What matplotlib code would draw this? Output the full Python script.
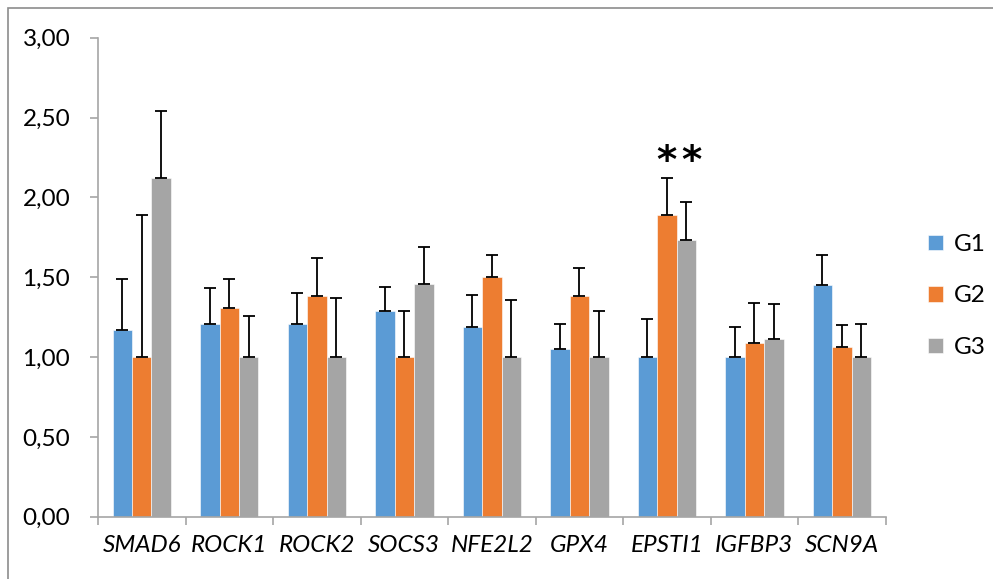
import matplotlib
matplotlib.use("Agg")
import matplotlib.pyplot as plt
import numpy as np
from matplotlib.patches import Rectangle

plt.rcParams['font.family'] = ['Lato', 'DejaVu Sans']

genes = ["SMAD6", "ROCK1", "ROCK2", "SOCS3", "NFE2L2", "GPX4", "EPSTI1", "IGFBP3", "SCN9A"]
groups = ["G1", "G2", "G3"]
g1 = [1.17, 1.21, 1.21, 1.29, 1.19, 1.05, 1.00, 1.00, 1.45]
g2 = [1.00, 1.31, 1.38, 1.00, 1.50, 1.38, 1.89, 1.09, 1.06]
g3 = [2.12, 1.00, 1.00, 1.46, 1.00, 1.00, 1.73, 1.11, 1.00]
g1_err = [0.32, 0.22, 0.19, 0.15, 0.20, 0.16, 0.24, 0.19, 0.19]
g2_err = [0.89, 0.18, 0.24, 0.29, 0.14, 0.18, 0.23, 0.25, 0.14]
g3_err = [0.42, 0.26, 0.37, 0.23, 0.36, 0.29, 0.24, 0.22, 0.21]
yticks = [0.0, 0.5, 1.0, 1.5, 2.0, 2.5, 3.0]
ytick_labels = ["0,00", "0,50", "1,00", "1,50", "2,00", "2,50", "3,00"]
sig_gene = "EPSTI1"
sig_marks = ["*", "*"]

colors = ["#5B9BD5", "#ED7D31", "#A5A5A5"]
W, H = 993, 579
FS = 17.5
fig = plt.figure(figsize=(W / 100, H / 100), dpi=100)
fig.patch.set_facecolor("white")
# outer border (top and left visible)
fig.add_artist(Rectangle((8 / W, -0.1), 1.2, (H - 8) / H + 0.1, transform=fig.transFigure,
                         fill=False, edgecolor="#8C8C8C", linewidth=1.2))

ax = fig.add_axes([98 / W, (H - 516.7) / H, (885.7 - 98) / W, (516.7 - 37.7) / H])
x = np.arange(len(genes))
bw = 1 / 4.5
vals = [g1, g2, g3]
errs = [g1_err, g2_err, g3_err]
for k in range(3):
    pos = x + (k - 1) * bw
    ax.bar(pos, vals[k], width=bw, color=colors[k], label=groups[k], zorder=2,
           edgecolor="white", linewidth=0.4)
    ax.errorbar(pos, vals[k], yerr=[np.zeros(len(genes)), errs[k]], fmt="none",
                ecolor="black", elinewidth=1.3, capsize=4.3, capthick=1.3, zorder=3)

ax.set_xlim(-0.5, len(genes) - 0.5)
ax.set_ylim(0, 3.0)
ax.set_yticks(yticks)
ax.set_yticklabels(ytick_labels, fontsize=FS)
ax.set_xticks(x)
ax.set_xticklabels(genes, fontsize=FS, style="italic")
ax.set_xticks(np.arange(-0.5, len(genes), 1.0), minor=True)
ax.tick_params(axis="x", which="major", length=0, pad=13)
ax.tick_params(axis="x", which="minor", length=6, color="#A6A6A6", width=1.2, direction="out")
ax.tick_params(axis="y", length=6, color="#A6A6A6", width=1.2, pad=14, direction="out")
for s in ["top", "right"]:
    ax.spines[s].set_visible(False)
for s in ["left", "bottom"]:
    ax.spines[s].set_color("#A6A6A6")
    ax.spines[s].set_linewidth(1.2)

i = genes.index(sig_gene)
for j, m in enumerate(sig_marks):
    ax.text(i + 0.0 + j * 0.28, 2.22, m, ha="center", va="center", fontsize=28,
            fontweight="bold", family="DejaVu Sans")

leg = fig.legend(loc="center left", bbox_to_anchor=(928 / W, 1 - 296 / H), frameon=False,
                 fontsize=FS, handlelength=0.6, handleheight=0.6, labelspacing=1.25,
                 handletextpad=0.45, borderpad=0, borderaxespad=0)

fig.savefig("out.png", dpi=100)
